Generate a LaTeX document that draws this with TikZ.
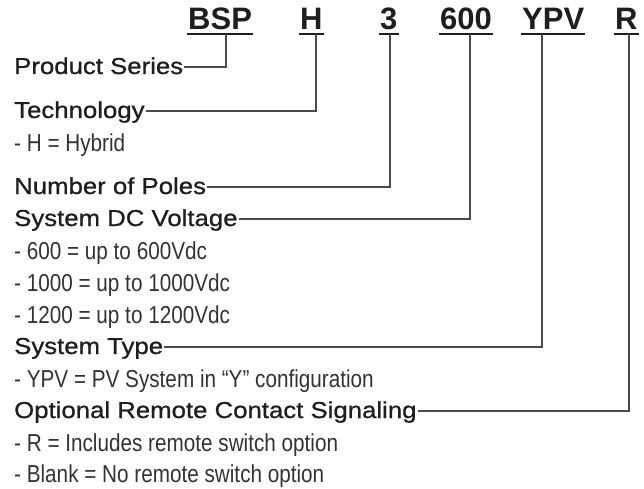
\documentclass[tikz,border=0pt]{standalone}
\usepackage{fontspec}
\setmainfont{Liberation Sans}
\newfontfamily\headfont[FakeStretch=1.12,FakeBold=0.9]{Liberation Sans}
\newfontfamily\descfont[FakeStretch=0.845]{Liberation Sans}
\definecolor{txt}{HTML}{1E1E1E}
\definecolor{dtxt}{HTML}{333333}
\definecolor{ln}{HTML}{4A4A4A}
\tikzset{
  code/.style={inner sep=0pt, anchor=base west, text=txt, font=\fontsize{31}{31}\selectfont\bfseries},
  head/.style={inner sep=0pt, anchor=base west, text=txt, font=\headfont\fontsize{23}{23}\selectfont},
  desc/.style={inner sep=0pt, anchor=base west, text=dtxt, font=\descfont\fontsize{24.5}{24.5}\selectfont},
  uline/.style={draw=txt, line width=1.6pt},
  conn/.style={draw=ln, line width=1.1pt},
}
\begin{document}
\begin{tikzpicture}[x=1pt,y=-1pt]
\useasboundingbox (0,0) rectangle (644,489);
% codes
\node[code] (bsp) at (188,30) {BSP};
\node[code] (h) at (300,30) {H};
\node[code] (three) at (380,30) {3};
\node[code] (six) at (440,30) {600};
\node[code] (ypv) at (522,30) {YPV};
\node[code] (r) at (615,30) {R};
\foreach \n in {bsp,h,three,six,ypv,r}{
  \draw[uline] ([xshift=-1pt,yshift=-4pt]\n.base west) -- ([xshift=1pt,yshift=-4pt]\n.base east);
}
\coordinate (bspU) at (226,34);
\coordinate (hU) at (316,34);
\coordinate (threeU) at (390,34);
\coordinate (sixU) at (470,34);
\coordinate (ypvU) at (542,34);
\coordinate (rU) at (629,34);
% headings
\node[head] (ps) at (14,74) {Product Series};
\node[head] (tech) at (14,118) {Technology};
\node[head] (nop) at (14,194) {Number of Poles};
\node[head] (dc) at (14,226) {System DC Voltage};
\node[head] (st) at (14,354) {System Type};
\node[head] (opt) at (14,418) {Optional Remote Contact Signaling};
% descriptions
\node[desc] (d1) at (14,151) {- H = Hybrid};
\node[desc] (d2) at (14,259) {- 600 = up to 600Vdc};
\node[desc] (d3) at (14,291) {- 1000 = up to 1000Vdc};
\node[desc] (d4) at (14,323) {- 1200 = up to 1200Vdc};
\node[desc] (d5) at (14,387) {- YPV = PV System in “Y” configuration};
\node[desc] (d6) at (14,451) {- R = Includes remote switch option};
\node[desc] (d7) at (14,482) {- Blank = No remote switch option};
% connectors
\draw[conn] ([xshift=1pt,yshift=7pt]ps.base east) -| (bspU);
\draw[conn] ([xshift=1pt,yshift=7pt]tech.base east) -| (hU);
\draw[conn] ([xshift=1pt,yshift=7pt]nop.base east) -| (threeU);
\draw[conn] ([xshift=1pt,yshift=7pt]dc.base east) -| (sixU);
\draw[conn] ([xshift=1pt,yshift=7pt]st.base east) -| (ypvU);
\draw[conn] ([xshift=1pt,yshift=7pt]opt.base east) -| (rU);
\end{tikzpicture}
\end{document}
